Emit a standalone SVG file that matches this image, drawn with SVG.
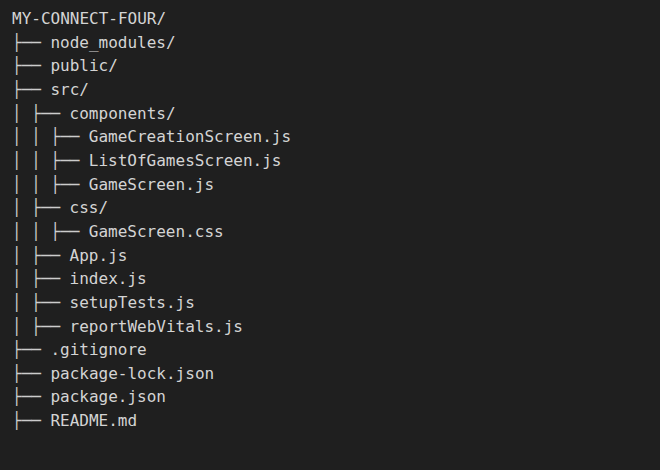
<svg xmlns="http://www.w3.org/2000/svg" width="660" height="470" viewBox="0 0 660 470">
<style>
text { font-family: "DejaVu Sans Mono", "Liberation Mono", monospace; font-size: 16px; fill: #d4d4d4; white-space: pre; }
.t { fill: #cccccc; }
</style>
<rect width="660" height="470" fill="#1f1f1f"/>
<g id="connectors">
<text class="t" x="12" y="47.7">├──</text>
<text class="t" x="12" y="71.3">├──</text>
<text class="t" x="12" y="95">├──</text>
<text class="t" x="12" y="118.6">│ ├──</text>
<text class="t" x="12" y="142.3">│ │ ├──</text>
<text class="t" x="12" y="165.9">│ │ ├──</text>
<text class="t" x="12" y="189.6">│ │ ├──</text>
<text class="t" x="12" y="213.2">│ ├──</text>
<text class="t" x="12" y="236.9">│ │ ├──</text>
<text class="t" x="12" y="260.5">│ ├──</text>
<text class="t" x="12" y="284.2">│ ├──</text>
<text class="t" x="12" y="307.8">│ ├──</text>
<text class="t" x="12" y="331.5">│ ├──</text>
<text class="t" x="12" y="355.1">├──</text>
<text class="t" x="12" y="378.8">├──</text>
<text class="t" x="12" y="402.4">├──</text>
<text class="t" x="12" y="426.1">├──</text>
</g>
<g id="root"><text x="12" y="24">MY-CONNECT-FOUR/</text></g>
<g id="node_modules"><text x="50.4" y="47.7">node_modules/</text></g>
<g id="public"><text x="50.4" y="71.3">public/</text></g>
<g id="src"><text x="50.4" y="95">src/</text></g>
<g id="components"><text x="69.6" y="118.6">components/</text></g>
<g id="GameCreationScreen"><text x="88.8" y="142.3">GameCreationScreen.js</text></g>
<g id="ListOfGamesScreen"><text x="88.8" y="165.9">ListOfGamesScreen.js</text></g>
<g id="GameScreen"><text x="88.8" y="189.6">GameScreen.js</text></g>
<g id="css"><text x="69.6" y="213.2">css/</text></g>
<g id="GameScreenCss"><text x="88.8" y="236.9">GameScreen.css</text></g>
<g id="App"><text x="69.6" y="260.5">App.js</text></g>
<g id="index"><text x="69.6" y="284.2">index.js</text></g>
<g id="setupTests"><text x="69.6" y="307.8">setupTests.js</text></g>
<g id="reportWebVitals"><text x="69.6" y="331.5">reportWebVitals.js</text></g>
<g id="gitignore"><text x="50.4" y="355.1">.gitignore</text></g>
<g id="packageLock"><text x="50.4" y="378.8">package-lock.json</text></g>
<g id="package"><text x="50.4" y="402.4">package.json</text></g>
<g id="readme"><text x="50.4" y="426.1">README.md</text></g>
</svg>
